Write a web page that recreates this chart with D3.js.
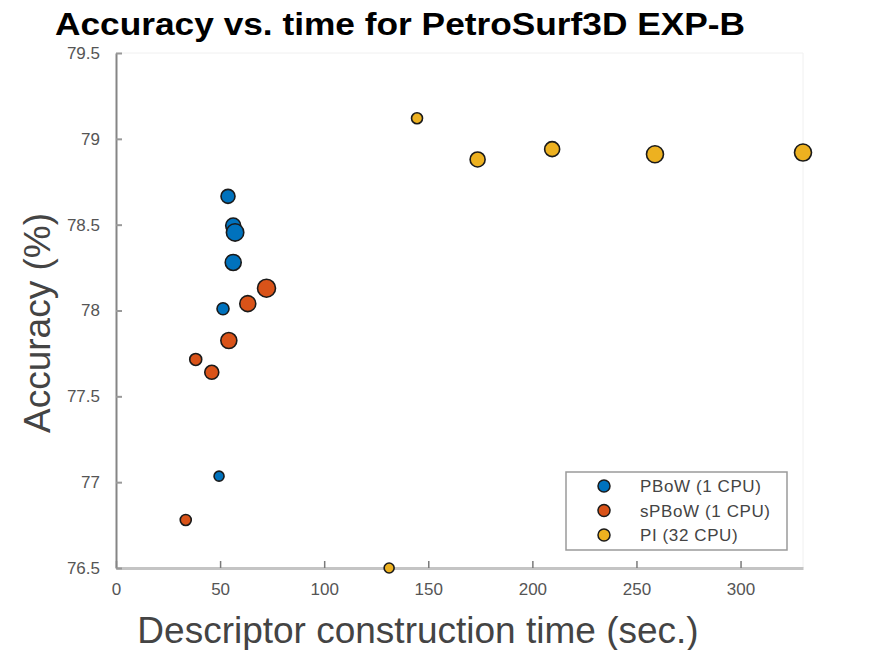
<!DOCTYPE html>
<html>
<head>
<meta charset="utf-8">
<script src="https://cdn.jsdelivr.net/npm/d3@7"></script>
<style>
  body { margin: 0; background: #fff; }
  text { font-family: "Liberation Sans", Arial, sans-serif; }
</style>
</head>
<body>
<div id="chart"></div>
<script>
// Data
const series = ['PBoW (1 CPU)', 'sPBoW (1 CPU)', 'PI (32 CPU)'];
const colors = ['#0072BD', '#D95319', '#EDB120'];

const pbowTime = [53.8, 56.3, 57.2, 56.3, 51.4, 49.5];
const pbowAcc = [78.665, 78.495, 78.455, 78.28, 78.01, 77.035];
const pbowSize = [7, 7.5, 8.7, 8, 6, 5];

const spbowTime = [72.3, 63.3, 54.2, 38.3, 46.0, 33.5];
const spbowAcc = [78.13, 78.04, 77.825, 77.715, 77.64, 76.78];
const spbowSize = [9, 8, 8, 6, 7, 5.5];

const piTime = [144.6, 173.7, 209.5, 258.9, 330.0, 131.2];
const piAcc = [79.12, 78.88, 78.94, 78.91, 78.92, 76.5];
const piSize = [5.5, 7.5, 7.5, 8.5, 8.5, 5];

const xTicks = [0, 50, 100, 150, 200, 250, 300];
const yTicks = [76.5, 77, 77.5, 78, 78.5, 79, 79.5];

const width = 888, height = 650;
const margin = { left: 116, right: 85, top: 53, bottom: 82 };

const svg = d3.select('#chart')
    .append('svg')
    .attr('width', width)
    .attr('height', height);

const x = d3.scaleLinear()
    .domain([0, 330])
    .range([margin.left, width - margin.right]);

const y = d3.scaleLinear()
    .domain([76.5, 79.5])
    .range([height - margin.bottom, margin.top]);

// faint box on top and right
svg.append('path')
    .attr('d', 'M' + x(0) + ',' + y(79.5) + 'H' + x(330) + 'V' + y(76.5))
    .attr('fill', 'none')
    .attr('stroke', '#f0f0f0')
    .attr('stroke-width', 1);

// x axis
const xAxis = svg.append('g')
    .attr('transform', 'translate(0,' + y(76.5) + ')')
    .call(d3.axisBottom(x).tickValues(xTicks).tickSizeInner(-7).tickSizeOuter(0).tickPadding(15));
xAxis.select('.domain').attr('stroke', '#c4c4c4').attr('stroke-width', 3);
xAxis.selectAll('.tick line').attr('stroke', '#7a7a7a').attr('stroke-width', 1.5);
xAxis.selectAll('.tick text')
    .attr('fill', '#555')
    .style('font-size', '17px')
    .attr('font-family', '"Liberation Sans", Arial, sans-serif');

// y axis
const yAxis = svg.append('g')
    .attr('transform', 'translate(' + x(0) + ',0)')
    .call(d3.axisLeft(y).tickValues(yTicks).tickFormat(d3.format('')).tickSizeInner(-6).tickSizeOuter(0).tickPadding(16));
yAxis.select('.domain').attr('stroke', '#858585').attr('stroke-width', 2);
yAxis.selectAll('.tick line').attr('stroke', '#999').attr('stroke-width', 2);
yAxis.selectAll('.tick text')
    .attr('fill', '#555')
    .style('font-size', '17px')
    .attr('font-family', '"Liberation Sans", Arial, sans-serif');

// points
const groups = [
    { time: pbowTime, acc: pbowAcc, size: pbowSize },
    { time: spbowTime, acc: spbowAcc, size: spbowSize },
    { time: piTime, acc: piAcc, size: piSize }
];

groups.forEach(function (g, i) {
    const pts = g.time.map(function (t, j) { return { t: t, a: g.acc[j], r: g.size[j] }; });
    svg.append('g')
        .selectAll('circle')
        .data(pts)
        .join('circle')
        .attr('cx', function (d) { return x(d.t); })
        .attr('cy', function (d) { return y(d.a); })
        .attr('r', function (d) { return d.r; })
        .attr('fill', colors[i])
        .attr('stroke', '#1a1a1a')
        .attr('stroke-width', 1.6);
});

// legend
const legend = svg.append('g').attr('transform', 'translate(566,472)');
legend.append('rect')
    .attr('width', 221)
    .attr('height', 78)
    .attr('fill', '#fff')
    .attr('stroke', '#9a9a9a')
    .attr('stroke-width', 1.5);
series.forEach(function (s, i) {
    legend.append('circle')
        .attr('cx', 38)
        .attr('cy', 14 + i * 24.5)
        .attr('r', 6)
        .attr('fill', colors[i])
        .attr('stroke', '#1a1a1a')
        .attr('stroke-width', 1.5);
    legend.append('text')
        .attr('x', 74)
        .attr('y', 14 + i * 24.5)
        .attr('dy', '0.36em')
        .attr('fill', '#444')
        .style('font-size', '17px')
        .style('letter-spacing', '0.6px')
        .text(s);
});

// title and axis labels
svg.append('text')
    .attr('x', 55)
    .attr('y', 35)
    .attr('font-weight', 'bold')
    .attr('fill', '#000')
    .style('font-size', '32px')
    .attr('textLength', 690)
    .attr('lengthAdjust', 'spacingAndGlyphs')
    .text('Accuracy vs. time for PetroSurf3D EXP-B');

svg.append('text')
    .attr('x', 418)
    .attr('y', 643)
    .attr('text-anchor', 'middle')
    .attr('fill', '#444')
    .style('font-size', '37px')
    .text('Descriptor construction time (sec.)');

svg.append('text')
    .attr('transform', 'translate(50,' + 323 + ') rotate(-90)')
    .attr('text-anchor', 'middle')
    .attr('fill', '#444')
    .style('font-size', '37px')
    .text('Accuracy (%)');
</script>
</body>
</html>
